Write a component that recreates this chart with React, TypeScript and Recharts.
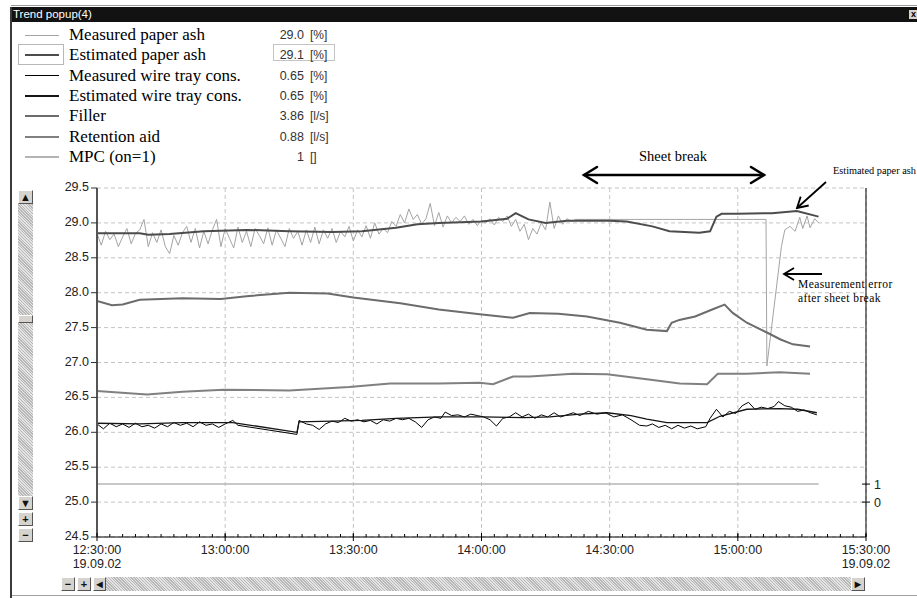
import React from 'react';
import { LineChart, Line, XAxis, YAxis, CartesianGrid } from 'recharts';

// ---------- legend / series descriptors ----------
const SERIES_NAMES = [
  'Measured paper ash',
  'Estimated paper ash',
  'Measured wire tray cons.',
  'Estimated wire tray cons.',
  'Filler',
  'Retention aid',
  'MPC (on=1)',
];
const SERIES_VALUES = ['29.0', '29.1', '0.65', '0.65', '3.86', '0.88', '1'];
const SERIES_UNITS = ['[%]', '[%]', '[%]', '[%]', '[l/s]', '[l/s]', '[]'];
const SERIES_COLORS = ['#a4a4a4', '#4c4c4c', '#000000', '#151515', '#6c6c6c', '#808080', '#b4b4b4'];
const SERIES_WIDTHS = [1, 2, 1, 1.3, 2, 2, 1.5];

// ---------- axes ----------
const X_TICK_MINUTES = [0, 30, 60, 90, 120, 150, 180];
const X_TICK_LABELS = ['12:30:00', '13:00:00', '13:30:00', '14:00:00', '14:30:00', '15:00:00', '15:30:00'];
const X_TICK_DATES = ['19.09.02', '', '', '', '', '', '19.09.02'];
const X_MINOR_TICKS = [
  0, 3, 6, 9, 12, 15, 18, 21, 24, 27, 30, 33, 36, 39, 42, 45, 48, 51, 54, 57, 60, 63, 66, 69, 72, 75, 78, 81, 84, 87,
  90, 93, 96, 99, 102, 105, 108, 111, 114, 117, 120, 123, 126, 129, 132, 135, 138, 141, 144, 147, 150, 153, 156, 159,
  162, 165, 168, 171, 174, 177, 180,
];
const Y_TICKS = [24.5, 25.0, 25.5, 26.0, 26.5, 27.0, 27.5, 28.0, 28.5, 29.0, 29.5];
const MPC_TICKS = [0, 1];

// ---------- data (time in minutes after 12:30:00) ----------
const measAshHead = [
  28.85, 28.68, 28.88, 28.76, 28.84, 28.66, 28.80, 28.92, 28.70, 28.85,
  28.90, 29.05, 28.66, 28.86, 28.72, 28.90, 28.66, 28.56, 28.82, 28.68,
  28.86, 28.95, 28.72, 28.92, 28.64, 28.88, 28.70, 28.90, 29.05, 28.66,
  28.92, 28.78, 28.64, 28.94, 28.72, 28.88, 28.66, 28.92, 28.82, 28.70,
  28.93, 28.68, 28.90, 28.78, 28.66, 28.92, 28.78, 28.88, 28.68, 28.90,
  28.72, 28.94, 28.70, 28.90, 28.78, 28.92, 28.72, 28.88, 28.80, 28.95,
  28.74, 28.90, 28.80, 28.96, 28.78, 29.00, 28.84, 28.92, 28.86, 29.02,
  28.95, 29.12, 29.00, 29.20, 29.05, 29.12, 28.98, 29.06, 29.28, 28.96,
  29.15, 28.94, 29.10, 29.00, 29.08, 29.02, 29.10, 28.98, 29.05, 28.96,
  29.04, 29.00, 29.06, 28.97, 29.08, 29.02, 29.10, 28.95, 29.05, 28.88,
  28.98, 28.76, 28.92, 28.84, 29.00, 28.90, 29.30, 28.92, 29.10, 28.98,
  29.06, 29.02, 29.05,
];
const measAshTailT = [156.6, 156.8, 160.2, 161.0, 162.2, 163.4, 164.5, 165.2, 166.2, 166.9, 168.0, 168.9];
const measAshTailV = [29.05, 26.95, 28.66, 28.90, 28.95, 28.88, 29.08, 28.92, 29.10, 28.93, 29.06, 29.00];

const estAshT = [0, 10, 12, 17, 25, 35, 45, 55, 62, 70, 75, 80, 90, 96, 98, 101, 105, 110, 120, 124, 130, 134, 141, 143.5, 145, 146.2, 150, 158, 163.8, 168.9];
const estAshV = [28.85, 28.85, 28.83, 28.84, 28.88, 28.90, 28.88, 28.87, 28.88, 28.93, 28.98, 29.00, 29.02, 29.06, 29.14, 29.05, 29.00, 29.03, 29.03, 29.02, 28.95, 28.88, 28.86, 28.88, 29.09, 29.13, 29.13, 29.14, 29.17, 29.09];

const measWireT = [
  0, 1.5, 3, 4.5, 6, 7.5, 9, 10.5, 12, 13.5, 15, 16.5, 18, 19.5, 21, 22.5, 24, 25.5, 27, 28.5, 30, 31.8, 33, 46.8,
  47.3, 49, 50.5, 52, 53.5, 55, 56.5, 58, 59.5, 61, 62.5, 64, 65.5, 67, 68.5, 70, 71.5, 73, 74.5, 76, 77.5, 79, 80.5,
  81.5, 83, 84.5, 86, 87.5, 89, 90.5, 92, 93.5, 95, 96.5, 98, 99.5, 101, 102.5, 104, 105.5, 107, 108.5, 110, 111.5,
  113, 115, 117, 119, 121, 123, 125, 127, 128.7, 130, 131.5, 133, 134.5, 136, 137.5, 139, 140.5, 142.5, 143.5, 145,
  146.5, 148, 149.5, 151, 152.5, 154, 155.5, 157, 158.5, 159.5, 161, 162.5, 164, 165.5, 167, 168.5,
];
const measWireV = [
  26.12, 26.05, 26.13, 26.08, 26.12, 26.07, 26.13, 26.08, 26.10, 26.06, 26.12, 26.08, 26.14, 26.10, 26.13, 26.08,
  26.15, 26.10, 26.12, 26.07, 26.12, 26.17, 26.10, 25.97, 26.17, 26.12, 26.10, 26.04, 26.12, 26.16, 26.14, 26.20,
  26.16, 26.18, 26.15, 26.17, 26.12, 26.18, 26.16, 26.20, 26.18, 26.20, 26.15, 26.07, 26.18, 26.22, 26.20, 26.29,
  26.24, 26.25, 26.22, 26.26, 26.24, 26.22, 26.18, 26.09, 26.20, 26.22, 26.28, 26.22, 26.26, 26.20, 26.25, 26.22,
  26.28, 26.22, 26.25, 26.28, 26.24, 26.30, 26.26, 26.28, 26.22, 26.25, 26.18, 26.10, 26.09, 26.12, 26.07, 26.10,
  26.05, 26.10, 26.06, 26.09, 26.05, 26.08, 26.20, 26.33, 26.22, 26.30, 26.27, 26.38, 26.43, 26.33, 26.36, 26.34,
  26.37, 26.44, 26.38, 26.36, 26.30, 26.32, 26.28, 26.25,
];

const estWireT = [0, 10, 20, 31.8, 46.8, 47.3, 55, 62, 70, 80, 90, 100, 106, 113, 119.4, 125, 128.7, 133.4, 142.8, 145.8, 152.1, 159.8, 164, 168.5];
const estWireV = [26.13, 26.12, 26.14, 26.14, 26.00, 26.15, 26.16, 26.17, 26.20, 26.22, 26.22, 26.21, 26.22, 26.26, 26.28, 26.24, 26.19, 26.14, 26.14, 26.23, 26.33, 26.34, 26.33, 26.28];

const fillerT = [0, 3.5, 6, 10, 20, 29, 35, 45, 54, 60, 71, 80, 89.6, 97.4, 101.3, 108, 114.7, 122.4, 128.7, 133.4, 134.5, 136.3, 140, 144, 146.9, 148.8, 152.1, 156.8, 160, 162.9, 166.9];
const fillerV = [27.88, 27.82, 27.83, 27.90, 27.92, 27.91, 27.95, 28.00, 27.99, 27.93, 27.85, 27.76, 27.69, 27.64, 27.71, 27.70, 27.66, 27.57, 27.47, 27.45, 27.57, 27.61, 27.66, 27.76, 27.83, 27.71, 27.57, 27.43, 27.33, 27.26, 27.23];

const retentionT = [0, 5, 11.7, 20, 29.6, 45, 59, 68.6, 80, 89.6, 92.7, 97.4, 101.3, 111.4, 119.4, 128.7, 136.4, 142.8, 145.3, 152.1, 159.8, 166.9];
const retentionV = [26.59, 26.57, 26.54, 26.58, 26.61, 26.60, 26.65, 26.70, 26.70, 26.71, 26.69, 26.80, 26.80, 26.84, 26.83, 26.76, 26.70, 26.69, 26.84, 26.84, 26.86, 26.84];

const mpcT = [0, 168.9];
const mpcV = [1, 1];

// ---------- build series ----------
const zip = (t: number[], v: number[]) => t.map((tt, i) => ({ t: tt, v: v[i] }));
const measAshData = [
  ...measAshHead.map((v, i) => ({ t: i, v })),
  ...measAshTailT.map((t, i) => ({ t, v: measAshTailV[i] })),
];
const SERIES_DATA = [
  measAshData,
  zip(estAshT, estAshV),
  zip(measWireT, measWireV),
  zip(estWireT, estWireV),
  zip(fillerT, fillerV),
  zip(retentionT, retentionV),
  zip(mpcT, mpcV),
];

// ---------- tick renderers ----------
const XTick = (props: any) => {
  const { x, y, payload } = props;
  const i = X_TICK_MINUTES.indexOf(payload.value);
  return (
    <g>
      <line x1={x} y1={y - 4} x2={x} y2={y + 4} stroke="#000" strokeWidth={1} />
      <text x={x} y={y + 17} textAnchor="middle" fontSize={12.5} fill="#222">
        {X_TICK_LABELS[i]}
      </text>
      {X_TICK_DATES[i] ? (
        <text x={x} y={y + 31} textAnchor="middle" fontSize={12.5} fill="#222">
          {X_TICK_DATES[i]}
        </text>
      ) : null}
    </g>
  );
};
const YTick = (props: any) => {
  const { x, y, payload } = props;
  return (
    <text x={x} y={y + 3} textAnchor="end" fontSize={12.5} fill="#222">
      {Number(payload.value).toFixed(1)}
    </text>
  );
};
const EmptyTick = () => <g />;
const MpcTick = (props: any) => {
  const { x, y, payload } = props;
  return (
    <g>
      <line x1={x - 4} y1={y} x2={x + 4} y2={y} stroke="#000" strokeWidth={1} />
      <text x={x + 8} y={y + 4.5} fontSize={12.5} fill="#222">
        {payload.value}
      </text>
    </g>
  );
};

// ---------- window chrome helpers ----------
const hatch = 'repeating-linear-gradient(45deg, #b8b8b8 0px, #b8b8b8 1px, #e4e4e4 1px, #e4e4e4 2px)';
const btn = (x: number, y: number, w: number, h: number, label: string, key: string) => (
  <div
    key={key}
    style={{
      position: 'absolute', left: x, top: y, width: w, height: h, boxSizing: 'border-box',
      background: '#d6d3ce', borderTop: '1px solid #fff', borderLeft: '1px solid #fff',
      borderRight: '1px solid #555', borderBottom: '1px solid #555',
      fontFamily: '"Liberation Sans", Arial, sans-serif', fontSize: 11, fontWeight: 700,
      lineHeight: `${h - 2}px`, textAlign: 'center', color: '#111',
    }}
  >
    {label}
  </div>
);

export default function App() {
  const rowTop = 25;
  const rowH = 20.3;
  return (
    <div
      style={{
        position: 'absolute', left: 0, top: 0, width: 917, height: 598, background: '#fff',
        overflow: 'hidden', fontFamily: '"Liberation Sans", Arial, sans-serif',
      }}
    >
      {/* window frame */}
      <div style={{ position: 'absolute', left: 11, top: 5, width: 906, height: 1, background: '#9a9a9a' }} />
      <div style={{ position: 'absolute', left: 11, top: 7, width: 906, height: 15, background: '#121212' }} />
      <div style={{ position: 'absolute', left: 13, top: 7, height: 15, lineHeight: '15px', color: '#fff', fontSize: 11.5 }}>
        Trend popup(4)
      </div>
      <div style={{ position: 'absolute', left: 909, top: 10, width: 9, height: 9, background: '#d6d3ce', fontSize: 9, lineHeight: '9px', fontWeight: 700, textAlign: 'center', color: '#000' }}>
        x
      </div>
      <div style={{ position: 'absolute', left: 10, top: 7, width: 2, height: 591, background: '#3a3a3a' }} />
      <div style={{ position: 'absolute', left: 12, top: 595, width: 905, height: 1, background: '#a0a0a0' }} />

      {/* legend */}
      <div style={{ position: 'absolute', left: 18, top: rowTop + rowH - 1, width: 46, height: rowH, boxSizing: 'border-box', border: '1px solid #b8b8b8' }} />
      <div style={{ position: 'absolute', left: 273, top: rowTop + rowH - 1, width: 62, height: rowH - 4, boxSizing: 'border-box', border: '1px solid #c4c4c4' }} />
      {SERIES_NAMES.map((name, i) => {
        const cy = rowTop + i * rowH + 10;
        return (
          <React.Fragment key={name}>
            <div style={{ position: 'absolute', left: 25, top: cy - SERIES_WIDTHS[i] / 2, width: 34, height: Math.max(1, SERIES_WIDTHS[i]), background: SERIES_COLORS[i] }} />
            <div style={{ position: 'absolute', left: 69, top: cy - 11, height: 22, lineHeight: '22px', fontFamily: '"Liberation Serif", "Times New Roman", serif', fontSize: 17, color: '#000', whiteSpace: 'nowrap' }}>
              {name}
            </div>
            <div style={{ position: 'absolute', left: 250, width: 54, top: cy - 8, height: 16, lineHeight: '16px', fontSize: 12.5, color: '#333', textAlign: 'right' }}>
              {SERIES_VALUES[i]}
            </div>
            <div style={{ position: 'absolute', left: 310, top: cy - 8, height: 16, lineHeight: '16px', fontSize: 12, color: '#333', whiteSpace: 'nowrap' }}>
              {SERIES_UNITS[i]}
            </div>
          </React.Fragment>
        );
      })}

      {/* vertical scrollbar */}
      <div style={{ position: 'absolute', left: 18, top: 190, width: 15, height: 318, background: hatch }} />
      {btn(18, 190, 15, 14, '\u25B2', 'up')}
      {btn(18, 315, 15, 8, '', 'thumb')}
      {btn(18, 496, 15, 14, '\u25BC', 'down')}
      {btn(18, 512, 15, 14, '+', 'vplus')}
      {btn(18, 528, 15, 14, '\u2212', 'vminus')}

      {/* horizontal scrollbar */}
      <div style={{ position: 'absolute', left: 93, top: 577, width: 772, height: 14, background: hatch }} />
      {btn(61, 577, 14, 14, '\u2212', 'hminus')}
      {btn(77, 577, 14, 14, '+', 'hplus')}
      {btn(93, 577, 13, 14, '\u25C4', 'left')}
      {btn(851, 577, 14, 14, '\u25BA', 'right')}

      {/* chart */}
      <div style={{ position: 'absolute', left: 0, top: 0 }}>
        <LineChart width={917} height={598} margin={{ top: 188, right: 21, bottom: 31, left: 37 }}>
          <CartesianGrid stroke="#c4c4c4" strokeDasharray="4 3" />
          <XAxis
            type="number"
            dataKey="t"
            domain={[0, 180]}
            allowDataOverflow
            ticks={X_TICK_MINUTES}
            interval={0}
            tick={<XTick />}
            tickLine={false}
            tickSize={0}
            tickMargin={0}
            axisLine={{ stroke: '#000', strokeWidth: 1 }}
            height={30}
          />
          <XAxis
            xAxisId="minor"
            type="number"
            dataKey="t"
            domain={[0, 180]}
            allowDataOverflow
            ticks={X_MINOR_TICKS}
            interval={0}
            mirror
            tick={<EmptyTick />}
            tickSize={3}
            tickLine={{ stroke: '#000' }}
            axisLine={false}
          />
          <YAxis
            type="number"
            domain={[24.5, 29.5]}
            allowDataOverflow
            ticks={Y_TICKS}
            interval={0}
            width={60}
            tick={<YTick />}
            tickLine={{ stroke: '#333' }}
            axisLine={{ stroke: '#555', strokeWidth: 2 }}
          />
          <YAxis
            yAxisId="mpc"
            orientation="right"
            type="number"
            domain={[-1.94, 17.45]}
            allowDataOverflow
            ticks={MPC_TICKS}
            interval={0}
            width={30}
            tick={<MpcTick />}
            tickLine={false}
            tickSize={0}
            tickMargin={0}
            axisLine={{ stroke: '#000', strokeWidth: 1 }}
          />
          {SERIES_DATA.slice(0, 6).map((d, i) => (
            <Line
              key={SERIES_NAMES[i]}
              data={d}
              dataKey="v"
              type="linear"
              stroke={SERIES_COLORS[i]}
              strokeWidth={SERIES_WIDTHS[i]}
              dot={false}
              activeDot={false}
              isAnimationActive={false}
            />
          ))}
          <Line
            yAxisId="mpc"
            data={SERIES_DATA[6]}
            dataKey="v"
            type="linear"
            stroke={SERIES_COLORS[6]}
            strokeWidth={SERIES_WIDTHS[6]}
            dot={false}
            activeDot={false}
            isAnimationActive={false}
          />
        </LineChart>
      </div>

      {/* annotations */}
      <svg width={917} height={598} style={{ position: 'absolute', left: 0, top: 0, pointerEvents: 'none' }}>
        <g fill="none" stroke="#000" strokeWidth={2.5} strokeLinecap="round">
          <line x1={584} y1={175} x2={764} y2={175} />
          <polyline points="597,167 584,175 597,183" />
          <polyline points="751,167 764,175 751,183" />
        </g>
        <text x={673} y={161} textAnchor="middle" fontFamily='"Liberation Serif", "Times New Roman", serif' fontSize={14.5} fill="#000">
          Sheet break
        </text>
        <text x={833} y={174} fontFamily='"Liberation Serif", "Times New Roman", serif' fontSize={10.3} fill="#000">
          Estimated paper ash
        </text>
        <g fill="none" stroke="#000" strokeWidth={1.8}>
          <line x1={826} y1={182} x2={797} y2={208} />
          <polyline points="808.7,205.5 797,208 800.7,196.6" />
          <line x1={822} y1={274} x2={784} y2={274} />
          <polyline points="794,268 784,274 794,280" />
        </g>
        <text x={798} y={288} fontFamily='"Liberation Serif", "Times New Roman", serif' fontSize={11.5} letterSpacing={0.4} fill="#000">
          Measurement error
        </text>
        <text x={798} y={302} fontFamily='"Liberation Serif", "Times New Roman", serif' fontSize={11.5} letterSpacing={0.4} fill="#000">
          after sheet break
        </text>
      </svg>
    </div>
  );
}
